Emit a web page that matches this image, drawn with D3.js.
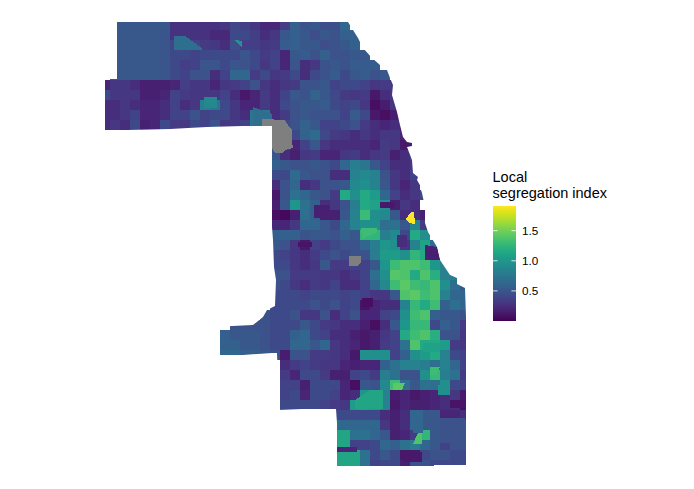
<!DOCTYPE html>
<html lang="en">
<head>
<meta charset="UTF-8" />
<title>Local segregation index</title>
<script src="https://d3js.org/d3.v7.min.js"></script>
<style>
  html, body { margin: 0; background: #fff; }
  svg { display: block; font-family: "Liberation Sans", Arial, sans-serif; }
</style>
</head>
<body>
<svg id="chart" width="694" height="489"></svg>
<script>
// local segregation index, one row per 10 map units, north to south
const gap = k => Array(k).fill(null);
const indexRows = [
  [null,.52,.52,.52,.52,.52,.52,.27,.27,.27,.27,.27,.3,.4,.35,.3,.22,.22,.35,.58,.48,.52,.45,.45,.62],
  [null,.52,.52,.52,.52,.52,.5,.27,.27,.27,.27,.22,.22,.42,.42,.35,.25,.3,.52,.58,.52,.45,.52,.48,.58,.58],
  [null,.52,.52,.52,.52,.52,.5,.4,.4,.38,.33,.3,.25,.45,.35,.35,.3,.33,.55,.58,.52,.52,.45,.48,.52,.58],
  [null,.52,.52,.52,.52,.52,.5,.42,.42,.38,.42,.42,.42,.42,.5,.42,.33,.38,.2,.52,.55,.48,.58,.48,.48,.52,.52],
  [null,.52,.52,.52,.52,.52,.5,.42,.35,.38,.5,.5,.42,.5,.48,.42,.3,.38,.2,.5,.25,.3,.48,.52,.48,.55,.55,.55],
  [null,.52,.52,.52,.52,.52,.5,.42,.38,.48,.48,.25,.38,.62,.62,.33,.42,.3,.33,.42,.25,.42,.48,.55,.42,.52,.55,.48,.52],
  [.2,.3,.3,.25,.17,.17,.17,.2,.35,.3,.3,.2,.3,.33,.38,.48,.3,.25,.3,.33,.48,.48,.52,.38,.42,.42,.38,.3,.33,.33],
  [.42,.3,.3,.3,.17,.17,.2,.38,.33,.3,.3,.3,.38,.25,.12,.2,.33,.25,.38,.52,.48,.6,.52,.42,.33,.3,.33,.12,.25,.3],
  [.25,.25,.3,.25,.2,.2,.25,.38,.25,.3,.8,.75,.42,.3,.2,.2,.33,.25,.42,.48,.52,.52,.55,.42,.38,.42,.3,.07,.15,.3],
  [.25,.25,.3,.38,.2,.2,.25,.38,.38,.48,.38,.42,.42,.3,.25,.75,.75,.25,.33,.48,.52,.48,.48,.48,.38,.55,.42,.12,.08,.15],
  [.25,.3,.25,.42,.17,.2,.42,.33,.3,.42,.38,.48,.3,.33,.38,.75,.75,.42,.42,.48,.6,.52,.38,.38,.42,.48,.33,.25,.2,.25,.15],
  [...gap(17),.42,.42,.42,.6,.65,.42,.33,.3,.25,.3,.25,.3,.3,.2],
  [...gap(17),.42,.42,.2,.38,.52,.3,.25,.25,.25,.25,.2,.33,.3,.12,.17],
  [...gap(17),.52,.25,.17,.3,.33,.2,.2,.3,.33,.25,.3,.33,.17,.25,.42],
  [...gap(17),.58,.52,.48,.48,.52,.48,.42,.62,.8,.75,.52,.38,.25,.25,.33],
  [...gap(17),.42,.42,.65,.52,.48,.48,.25,.25,.85,.9,.85,.48,.3,.25,.38],
  [...gap(17),.25,.48,.62,.25,.3,.48,.48,.52,.9,.95,.85,.52,.3,.2,.3],
  [...gap(17),.12,.48,.72,.62,.52,.48,.33,1.15,.95,1.15,1.05,.62,.38,.25,.3,.42],
  [...gap(17),.17,.52,1,.72,.58,.25,.3,.48,.8,1.15,1.1,.95,.17,.3,.25],
  [...gap(17),.07,.04,.17,.68,.58,.17,.17,.52,.85,1.3,.95,.9,.52,.25,.25,.17],
  [...gap(17),.2,.2,.3,.62,.62,.52,.42,.62,.85,.95,.95,.68,.72,.52,.85,.33],
  [...gap(17),.58,.58,.58,.48,.52,.52,.48,.58,.52,1.25,1.25,.8,.9,.42,1.15,.95],
  [...gap(17),.52,.48,.3,.12,.38,.33,.42,.48,.48,.62,.8,1,.95,.3,.85,1.1,.65],
  [...gap(17),.42,.38,.3,.25,.33,.42,.48,.42,.48,.48,.8,1.05,1.05,.95,1.25,1.15,.17],
  [...gap(17),.42,.42,.3,.25,.3,.52,.33,.33,.38,.38,.52,1,1.3,1.38,1.38,1.32,1,.85],
  [...gap(17),.48,.48,.33,.33,.33,.3,.3,.25,.3,.38,.68,.95,1.4,1.38,1.15,1.38,1.2,.85,.8],
  [...gap(17),.48,.42,.3,.25,.33,.3,.38,.25,.25,.38,.62,.9,1.32,1.42,1.32,1.28,1.38,.95,.68,.52],
  [...gap(17),.42,.42,.42,.38,.42,.42,.42,.38,.42,.38,.3,.3,.52,1.38,1.42,1.32,1.38,.85,.62,.62],
  [...gap(17),.42,.42,.42,.42,.48,.42,.48,.38,.42,.1,.2,.25,.25,.85,1.28,1.15,1.32,.58,.68,.62],
  [...gap(16),.48,.42,.42,.48,.3,.3,.48,.25,.38,.48,.2,.2,.38,.42,.95,1.32,1.38,.58,.52,.52,.48],
  [...gap(13),.48,.48,.48,.48,.42,.42,.42,.52,.42,.33,.3,.25,.25,.17,.07,.25,.52,1,1.28,1.28,.42,.58,.52,.33],
  [...gap(12),.58,.52,.52,.52,.48,.42,.42,.58,.62,.42,.38,.25,.25,.17,.12,.17,.3,.38,1.15,1.32,1.38,1.2,.48,.48,.3],
  [...gap(12),.58,.58,.52,.52,.48,.42,.42,.62,.62,.52,.62,.3,.25,.2,.12,.17,.33,.38,.72,1.38,1.15,1.15,1.05,.33,.3],
  [...gap(12),.62,.62,.58,.58,.52,.48,.15,.48,.48,.33,.33,.3,.25,.12,.95,.95,.33,.38,.58,.95,1.05,1.15,.85,.42,.38],
  [...gap(18),.25,.33,.38,.33,.3,.3,.2,.17,.2,.2,.58,.72,.85,.85,.8,.68,.85,.62,.38],
  [...gap(18),.33,.2,.42,.42,.33,.17,.17,.38,.42,.33,.8,.72,.48,.48,.95,1.28,.8,.72,.33],
  [...gap(18),.38,.38,.17,.42,.42,.42,.2,.07,.52,.48,.9,1.32,.68,.52,.72,.68,.95,.42,.38],
  [...gap(18),.38,.42,.2,.42,.42,.38,.2,.25,1,1.05,.85,.15,.2,.12,.17,.2,.25,.3,.12],
  [...gap(18),.42,.42,.42,.42,.38,.33,.3,1.05,1.1,1.05,.85,.12,.2,.17,.17,.2,.25,.25,.07],
  [...gap(23),.42,.42,.42,.42,.42,.25,.17,.25,.62,.48,.48,.2,.2,.25],
  [...gap(23),.68,.62,.62,.62,.62,.3,.17,.25,.62,.48,.2,.42,.52,.52],
  [...gap(23),1.12,1.12,.72,.72,.62,.52,.17,.2,.33,1.25,.52,.3,.52,.52],
  [...gap(23),1.12,1.12,.38,.38,.42,.62,.58,.72,.8,.62,.52,.38,.48,.48],
  [...gap(23),1.12,1.12,1.12,.72,.42,.52,.42,.12,.12,.42,.48,.48,.42,.42],
  [...gap(23),1.12,1.12,1.12,.72,.38,.42,.42,.17,.48,.48,.42,.42,.42,.42]
];

// city limits, map units
const cityOutline = [[117,22],[348,22],[358,38],[363,48],[372,58],[380,65],[387,70],[390,78],[393,85],[392,95],[397,112],[400,125],[403,137],[407,142],[412,143],[412,146],[407,147],[412,160],[413,173],[418,177],[417,180],[421,187],[426,187],[426,190],[421,190],[422,193],[425,207],[425,223],[428,232],[437,247],[440,260],[450,275],[457,278],[457,284],[465,288],[466,317],[466,465],[434,465],[434,466],[337,466],[337,423],[336,409],[302,409],[278,410],[278,382],[277,353],[272,353],[243,355],[220,355],[220,327],[232,326],[253,325],[263,317],[267,310],[275,306],[276,280],[274,267],[273,240],[272,227],[272,165],[272,126],[243,126],[207,127],[188,128],[170,129],[128,130],[105,131],[105,79],[117,79]];

// tracts too small or too sharp for the grid, null where there is no index
const tractValues = [.68,.9,.2,1.12,.62,.52,.48,.12,.1,.95,1.1,.95,1.32,.07,.12,.25,.17,.17,.1,.68,1.9,1,1.38,1.42,1.32,null,null];
const tractRings = [
  [[174,36],[185,36],[202,48],[202,50],[174,50]],
  [[204,97],[217,97],[217,108],[204,108]],
  [[337,447],[357,447],[357,452],[337,452]],
  [[355,400],[370,390],[383,390],[383,409],[355,409]],
  [[413,410],[423,410],[423,433],[413,433]],
  [[423,410],[440,410],[440,430],[423,430]],
  [[440,418],[465,418],[465,443],[440,443]],
  [[403,452],[422,452],[422,462],[403,462]],
  [[450,400],[466,400],[466,408],[450,408]],
  [[373,350],[390,350],[390,360],[373,360]],
  [[423,343],[440,343],[440,352],[423,352]],
  [[438,385],[450,385],[450,395],[438,395]],
  [[430,367],[440,367],[436,375],[430,375]],
  [[362,298],[373,298],[373,307],[362,307]],
  [[380,202],[395,202],[395,208],[380,208]],
  [[397,235],[407,235],[407,247],[397,247]],
  [[425,245],[437,247],[440,260],[425,260]],
  [[314,205],[330,205],[330,218],[314,218]],
  [[298,242],[312,242],[312,247],[298,247]],
  [[253,107],[272,114],[272,126],[253,126]],
  [[406,219],[411,212],[414,212],[415,224],[409,223]],
  [[235,40],[242,41],[242,48]],
  [[418,433],[422,433],[422,444],[413,444]],
  [[393,383],[405,383],[402,390],[393,390]],
  [[361,228],[377,228],[377,232],[362,239]],
  [[262,119],[285,120],[288,125],[292,130],[292,142],[293,148],[285,150],[283,153],[275,153],[272,148],[272,126],[262,126]],
  [[349,256],[361,256],[361,262],[358,266],[349,266]]
];

const legendTicks = [0.5, 1, 1.5];
const legendTitle = ["Local", "segregation index"];

const svg = d3.select("#chart");
const color = d3.scaleSequential(d3.interpolateViridis).domain([0, 1.91]);
const naColor = "#7f7f7f";

const gridX = d3.scaleBand().domain(d3.range(37)).range([100, 470]);
const gridY = d3.scaleBand().domain(d3.range(indexRows.length)).range([20, 470]);
const mapX = d3.scaleLinear().domain([100, 470]).range([100, 470]);
const mapY = d3.scaleLinear().domain([20, 470]).range([20, 470]);
const ring = d3.line().x(d => mapX(d[0])).y(d => mapY(d[1])).curve(d3.curveLinearClosed);

svg.append("clipPath").attr("id", "city").append("path").attr("d", ring(cityOutline));

const map = svg.append("g").attr("clip-path", "url(#city)").attr("shape-rendering", "crispEdges");

const cells = [];
indexRows.forEach((row, j) => row.forEach((v, i) => { if (v !== null) cells.push({ i, j, v }); }));

map.selectAll("rect")
  .data(cells)
  .join("rect")
  .attr("x", d => gridX(d.i))
  .attr("y", d => gridY(d.j))
  .attr("width", gridX.bandwidth())
  .attr("height", gridY.bandwidth())
  .attr("fill", d => color(d.v));

map.selectAll("path")
  .data(tractRings)
  .join("path")
  .attr("d", ring)
  .attr("fill", (d, i) => tractValues[i] === null ? naColor : color(tractValues[i]));

// colour bar
const barY = d3.scaleLinear().domain([0, 1.91]).range([321, 206]);
const defs = svg.append("defs");
const grad = defs.append("linearGradient").attr("id", "bar").attr("x1", 0).attr("x2", 0).attr("y1", 1).attr("y2", 0);
d3.range(0, 1.0001, 0.05).forEach(t => {
  grad.append("stop").attr("offset", t).attr("stop-color", d3.interpolateViridis(t));
});

const legend = svg.append("g");
legend.append("rect")
  .attr("x", 493).attr("y", barY(1.91))
  .attr("width", 23).attr("height", barY(0) - barY(1.91))
  .attr("fill", "url(#bar)");

const axis = d3.axisRight(barY).tickValues(legendTicks).tickSize(0).tickPadding(0).tickFormat(d3.format(".1f"));
const axisG = legend.append("g").attr("transform", "translate(522,0)").call(axis);
axisG.select(".domain").remove();
axisG.selectAll("text").attr("font-size", 11.7).attr("font-family", "Liberation Sans").attr("fill", "#000");

legend.selectAll("line.tick-l")
  .data(legendTicks)
  .join("line")
  .attr("class", "tick-l")
  .attr("x1", 493).attr("x2", 497.6)
  .attr("y1", d => barY(d)).attr("y2", d => barY(d))
  .attr("stroke", "#fff").attr("stroke-width", 0.8);
legend.selectAll("line.tick-r")
  .data(legendTicks)
  .join("line")
  .attr("class", "tick-r")
  .attr("x1", 511.4).attr("x2", 516)
  .attr("y1", d => barY(d)).attr("y2", d => barY(d))
  .attr("stroke", "#fff").attr("stroke-width", 0.8);

legend.selectAll("text.title")
  .data(legendTitle)
  .join("text")
  .attr("class", "title")
  .attr("x", 492.5)
  .attr("y", (d, i) => 182 + i * 16)
  .attr("font-size", 14.5)
  .attr("fill", "#000")
  .text(d => d);
</script>
</body>
</html>
